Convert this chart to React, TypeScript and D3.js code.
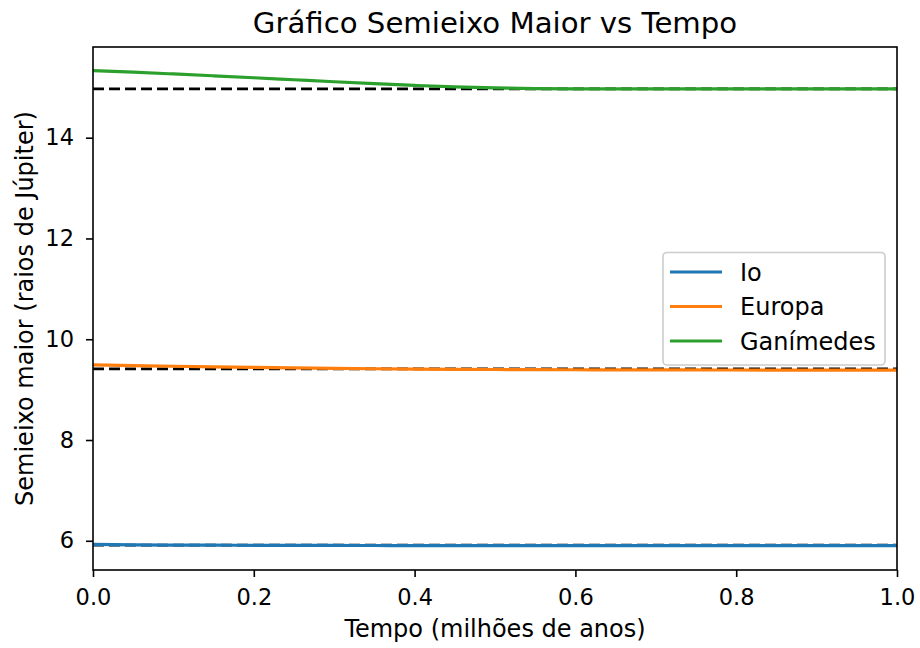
import React, { useEffect, useRef } from "react";
import * as d3 from "d3";

// Tempo em milhões de anos
const tempo = [0, 0.05, 0.1, 0.15, 0.2, 0.25, 0.3, 0.35, 0.4, 0.45, 0.5, 0.55, 0.6, 0.65, 0.7, 0.75, 0.8, 0.85, 0.9, 0.95, 1.0];

// Semieixo maior (raios de Júpiter)
const io = [5.93, 5.92, 5.915, 5.912, 5.91, 5.908, 5.907, 5.906, 5.905, 5.905, 5.904, 5.904, 5.903, 5.903, 5.903, 5.902, 5.902, 5.902, 5.902, 5.902, 5.902];
const europa = [9.49, 9.477, 9.464, 9.452, 9.441, 9.431, 9.422, 9.414, 9.408, 9.403, 9.399, 9.396, 9.394, 9.392, 9.391, 9.39, 9.389, 9.388, 9.387, 9.386, 9.386];
const ganimedes = [15.33, 15.3, 15.265, 15.228, 15.19, 15.15, 15.11, 15.072, 15.038, 15.008, 14.987, 14.975, 14.97, 14.969, 14.968, 14.968, 14.968, 14.968, 14.968, 14.968, 14.968];

// Valores de referência (linhas tracejadas)
const referencia = [5.915, 9.41, 14.97];

const nomes = ["Io", "Europa", "Ganímedes"];
const cores = ["#1f77b4", "#ff7f0e", "#2ca02c"];
const xTicks = [0, 0.2, 0.4, 0.6, 0.8, 1.0];
const yTicks = [6, 8, 10, 12, 14];

const W = 920;
const H = 648;
const M = { left: 93, right: 897, top: 47, bottom: 570 };
const FONT = "DejaVu Sans, sans-serif";

export default function App() {
  const ref = useRef<SVGSVGElement>(null);

  useEffect(() => {
    document.body.style.margin = "0";
    const svg = d3.select(ref.current);
    svg.selectAll("*").remove();

    const x = d3.scaleLinear().domain([0, 1]).range([M.left, M.right]);
    const y = d3.scaleLinear().domain([5.42, 15.8]).range([M.bottom, M.top]);

    svg.append("rect").attr("width", W).attr("height", H).attr("fill", "#fff");

    const plot = svg.append("g");
    plot
      .append("clipPath")
      .attr("id", "clip")
      .append("rect")
      .attr("x", M.left)
      .attr("y", M.top)
      .attr("width", M.right - M.left)
      .attr("height", M.bottom - M.top);
    const g = plot.append("g").attr("clip-path", "url(#clip)");

    // Linhas de referência
    referencia.forEach((v) => {
      g.append("line")
        .attr("x1", x(0))
        .attr("x2", x(1))
        .attr("y1", y(v))
        .attr("y2", y(v))
        .attr("stroke", "#000")
        .attr("stroke-width", 2.8)
        .attr("stroke-dasharray", "11,5");
    });

    const series = [io, europa, ganimedes];
    const line = d3
      .line<number>()
      .x((_, i) => x(tempo[i]))
      .y((d) => y(d))
      .curve(d3.curveMonotoneX);

    series.forEach((s, k) => {
      g.append("path")
        .attr("d", line(s) as string)
        .attr("fill", "none")
        .attr("stroke", cores[k])
        .attr("stroke-width", 3.2);
    });

    // Eixos
    const xAxis = svg
      .append("g")
      .attr("transform", `translate(0,${M.bottom})`)
      .call(d3.axisBottom(x).tickValues(xTicks).tickFormat(d3.format(".1f")).tickSizeInner(7).tickSizeOuter(0).tickPadding(12));
    const yAxis = svg
      .append("g")
      .attr("transform", `translate(${M.left},0)`)
      .call(d3.axisLeft(y).tickValues(yTicks).tickFormat(d3.format("d")).tickSizeInner(7).tickSizeOuter(0).tickPadding(12));
    [xAxis, yAxis].forEach((a) => {
      a.select(".domain").remove();
      a.selectAll("line").attr("stroke", "#000").attr("stroke-width", 1.6);
      a.selectAll("text").attr("font-family", FONT).attr("font-size", 22.5).attr("fill", "#000");
    });

    // Moldura
    svg
      .append("rect")
      .attr("x", M.left)
      .attr("y", M.top)
      .attr("width", M.right - M.left)
      .attr("height", M.bottom - M.top)
      .attr("fill", "none")
      .attr("stroke", "#000")
      .attr("stroke-width", 1.6);

    // Títulos
    svg
      .append("text")
      .attr("x", (M.left + M.right) / 2)
      .attr("y", 32.5)
      .attr("text-anchor", "middle")
      .attr("font-family", FONT)
      .attr("font-size", 29.2)
      .text("Gráfico Semieixo Maior vs Tempo");
    svg
      .append("text")
      .attr("x", (M.left + M.right) / 2)
      .attr("y", 637)
      .attr("text-anchor", "middle")
      .attr("font-family", FONT)
      .attr("font-size", 24)
      .text("Tempo (milhões de anos)");
    svg
      .append("text")
      .attr("transform", `translate(32.5,${(M.top + M.bottom) / 2}) rotate(-90)`)
      .attr("text-anchor", "middle")
      .attr("font-family", FONT)
      .attr("font-size", 24)
      .text("Semieixo maior (raios de Júpiter)");

    // Legenda
    const leg = svg.append("g");
    leg
      .append("rect")
      .attr("x", 663)
      .attr("y", 252.5)
      .attr("width", 222)
      .attr("height", 112.5)
      .attr("rx", 4)
      .attr("fill", "#fff")
      .attr("fill-opacity", 0.8)
      .attr("stroke", "#ccc")
      .attr("stroke-width", 1.6);
    nomes.forEach((n, i) => {
      const yy = 272 + i * 34.5;
      leg
        .append("line")
        .attr("x1", 670)
        .attr("x2", 722)
        .attr("y1", yy)
        .attr("y2", yy)
        .attr("stroke", cores[i])
        .attr("stroke-width", 3.2);
      leg
        .append("text")
        .attr("x", 740)
        .attr("y", yy + 8.7)
        .attr("font-family", FONT)
        .attr("font-size", 24)
        .text(n);
    });
  }, []);

  return <svg ref={ref} width={W} height={H} style={{ display: "block" }} />;
}
